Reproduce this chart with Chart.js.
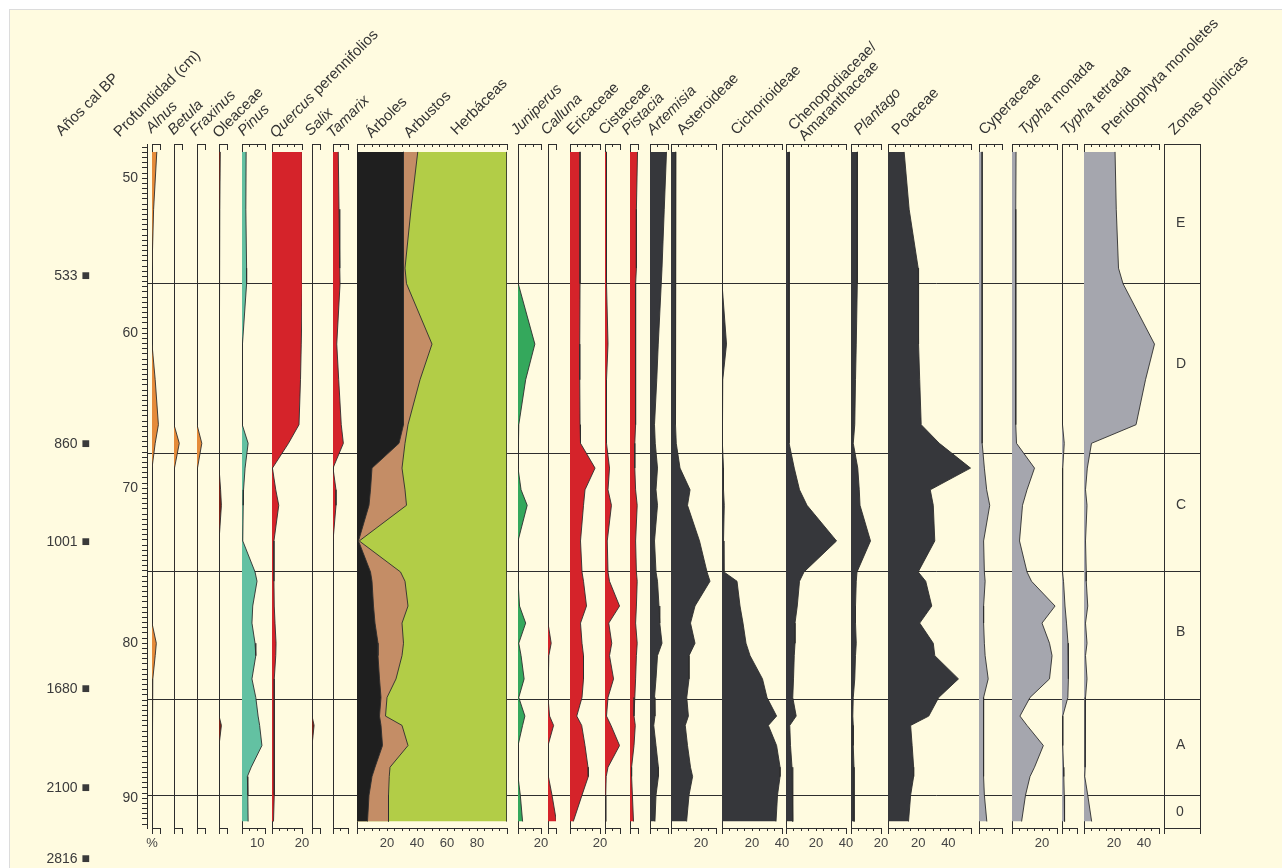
<!DOCTYPE html>
<html>
<head>
<meta charset="utf-8">
<script src="https://cdn.jsdelivr.net/npm/chart.js@4.4.1/dist/chart.umd.min.js"></script>
<style>
  body { margin: 0; background: #fff; }
  #stage { position: relative; width: 1282px; height: 868px; overflow: hidden; font-family: "Liberation Sans", Arial, sans-serif; }
  #frame { position: absolute; left: 9px; top: 9px; right: 0; bottom: 0; background: #fffbe0; border-top: 1px solid #dcdcdc; border-left: 1px solid #dcdcdc; }
  canvas { position: absolute; }
  .hd { position: absolute; white-space: nowrap; font-size: 15px; line-height: 15px; color: #333;
        transform-origin: 0 100%; transform: rotate(-45deg); }
</style>
</head>
<body>
<div id="stage"><div id="frame"></div></div>
<script>
// depth of each sample (cm)
const depths = [48.3, 52.0, 55.8, 56.8, 60.7, 63.0, 65.9, 67.1, 68.7, 70.1, 71.1, 73.4, 75.4, 76.0,
                77.6, 78.7, 80.0, 80.8, 82.3, 83.5, 84.7, 85.3, 86.6, 88.0, 88.6, 89.8, 91.5];

// percentages, one value per depth
const alnus = [3, 1, 0, 0, 0, 2, 4, 2, 0, 0, 0, 0, 0, 0, 0, 0, 2.7, 2, 0.5, 0, 0, 0, 0, 0, 0, 0, 0];
const betula = [0, 0, 0, 0, 0, 0, 0, 3.3, 0.3, 0, 0, 0, 0, 0, 0, 0, 0, 0, 0, 0, 0, 0, 0, 0, 0, 0, 0];
const fraxinus = [0, 0, 0, 0, 0, 0, 0, 3, 0.3, 0, 0, 0, 0, 0, 0, 0, 0, 0, 0, 0, 0, 0, 0, 0, 0, 0, 0];
const oleaceae = [0.8, 0.5, 0.2, 0, 0, 0, 0, 0, 0, 1, 1.5, 0, 0, 0, 0, 0, 0, 0, 0, 0, 0.3, 1.5, 0, 0, 0, 0, 0];
const pinus = [2.7, 2.5, 3, 3, 0.3, 0, 0.3, 4, 2, 1, 0.8, 0.5, 8.5, 9.8, 7, 6.5, 8.5, 9, 6.5, 9, 10.5, 11.5, 13, 6, 3.5, 3.8, 4];
const quercus = [20.5, 20.5, 20.3, 20, 19.5, 19, 18, 11, 0.3, 2.5, 4.5, 1.3, 1.3, 1.3, 1.5, 2, 2.7, 2.5, 1.5, 1.5, 1.5, 1.5, 1.5, 1.5, 1.5, 1.5, 1];
const salix = [0, 0, 0, 0, 0, 0, 0, 0, 0, 0, 0, 0, 0, 0, 0, 0, 0, 0, 0, 0, 0.2, 1.3, 0, 0, 0, 0, 0];
const tamarix = [3.5, 4, 4.5, 4.7, 2.5, 3.8, 5.5, 6.9, 0, 2, 2, 0, 0, 0, 0, 0, 0, 0, 0, 0, 0, 0, 0, 0, 0, 0, 0];
const arboles = [31, 31, 31, 31, 31, 31, 31, 28, 10, 9, 8, 1, 9, 10, 11, 12, 14, 14, 15, 16, 15, 16, 17, 12, 10, 8, 7];
const arbustos = [9.5, 5, 1, 2, 19, 11, 3, 4, 20, 23, 25, 0.5, 20, 22, 23, 18, 17, 16, 11, 4, 4, 14, 17, 10, 11.5, 13, 14];
const herbaceas = [59.5, 64, 68, 67, 50, 58, 66, 68, 70, 68, 67, 98.5, 71, 68, 66, 70, 69, 70, 74, 80, 81, 70, 66, 78, 78.5, 79, 79];
const juniperus = [0, 0, 0, 0.5, 11, 5, 0.5, 0, 0, 2, 6, 0, 0, 0, 1, 5, 0.5, 2, 4, 0.5, 4.5, 3, 0, 0, 0, 1.5, 3];
const calluna = [0, 0, 0, 0, 0, 0, 0, 0, 0, 0, 0, 0, 0, 0, 0, 0, 2, 0.5, 0, 0, 1, 3.5, 0, 0, 0.5, 2.5, 5.3];
const ericaceae = [6.7, 6.7, 6.7, 6.7, 6.5, 6.5, 6.7, 7, 16.7, 10, 9, 7, 8, 9, 11, 7, 8, 9, 9, 8, 4.5, 7.8, 10, 12, 12.2, 8, 2.2];
const cistaceae = [1, 1, 1, 1, 2, 1, 1, 1, 3, 2, 4.3, 1.5, 2, 3, 9.7, 2.5, 4.5, 3, 5.7, 2, 1, 4, 9.7, 2, 0.8, 0.5, 0.5];
const pistacia = [4.7, 4, 4, 3.5, 3.5, 3.5, 3.5, 3, 3, 3.5, 4.5, 3.5, 4, 4.5, 4, 3.5, 4.5, 4, 3.5, 3, 2.5, 3.3, 2.5, 1, 1, 1.5, 2.2];
const artemisia = [11, 9.5, 8, 7.5, 5.5, 4.5, 3, 3.5, 5, 4, 5, 3, 4, 5, 6, 6.5, 8, 5, 4, 3, 3.3, 2.5, 4, 5.6, 5.6, 4, 3.3];
const asteroideae = [3.3, 3, 3, 3, 3, 3, 3, 3.5, 6, 12.7, 11, 19, 24, 26, 16, 13, 16, 12, 12, 10.5, 11.6, 9.5, 11, 13, 14.4, 12, 10.4];
const cichorioideae = [0, 0, 0, 0, 3, 0.5, 0, 0.5, 1, 1, 1.5, 1, 1.3, 10, 12, 14, 16, 18.7, 27, 30, 36.4, 30.9, 36.4, 38.7, 38.7, 37, 36];
const chenoAmaranth = [2.3, 2, 2, 2, 2, 2, 2, 2.5, 5.5, 9, 14, 33.7, 12, 9, 7.5, 6, 6, 5.5, 5, 4.5, 6.8, 2.5, 3, 4, 4.5, 4.5, 4.5];
const plantago = [4.3, 4.3, 4.3, 4, 3.5, 3, 2.5, 1.5, 4.5, 5.5, 6, 13, 4, 3.5, 3, 3, 3.5, 3, 2.5, 1.5, 1.2, 1.5, 1.5, 2, 2, 2, 2.3];
const poaceae = [10.7, 14, 20, 20, 20.5, 21, 22, 34, 54.7, 28, 30, 31, 20, 25, 29, 21, 30, 31, 46.7, 33.6, 27, 15, 16, 17, 17, 15, 13.6];
const cyperaceae = [2, 2, 2, 2, 2, 2, 2, 2.5, 3.5, 5, 7, 3, 3.5, 4, 3, 3, 3.5, 4, 6, 3, 2.9, 3, 3, 3, 3, 3.5, 5.1];
const typhaMonada = [2.7, 2.5, 2.5, 2.5, 2.5, 2.5, 2.5, 3, 15, 10, 7, 5, 10, 13, 28.7, 20, 25, 26.7, 25, 12, 5.3, 10, 20.9, 15, 12, 9, 6.4];
const typhaTetrada = [0.3, 0.3, 0.3, 0.3, 0.3, 0.3, 0.5, 1.5, 0.5, 0.3, 0.3, 0.3, 0.5, 1, 2, 3, 4, 4, 4.5, 3.9, 0.5, 0.5, 0.5, 1, 1.2, 1.5, 1.7];
const pteridophyta = [20.7, 21.5, 23, 26, 47, 41, 34.7, 5, 2.2, 1, 2, 1, 1.5, 1.5, 2.5, 1, 2, 1, 2, 1, 1, 0.7, 0.7, 0.7, 0.5, 2.5, 5.1];

// depth axis, calibrated ages and pollen zones
const depthLabels = [50, 60, 70, 80, 90];
const ages = ["533", "860", "1001", "1680", "2100", "2816"];
const ageDepths = [56.3, 67.15, 73.5, 82.95, 89.35, 93.9];
const zoneBounds = [56.8, 67.75, 75.4, 83.6, 89.85];
const zoneLetters = ["E", "D", "C", "B", "A", "0"];
const zoneLetterDepths = [52.9, 62.0, 71.1, 79.3, 86.6, 90.9];

const DEPTH_MIN = 47.79, DEPTH_MAX = 91.92;
const PX_PER_PCT = 1.5;
const INK = "#2e2e2e";
const ORANGE = "#e58b3a", DKRED = "#7a2218", TEAL = "#63c1a2", RED = "#d5232a";
const BLACK = "#1f1f1f", BROWN = "#c48d66", LIME = "#b2cd47", GREEN = "#34a85c";
const DARK = "#36373b", GREY = "#a5a6ae";

Chart.defaults.font.family = "'Liberation Sans', Arial, sans-serif";
Chart.defaults.color = INK;
Chart.defaults.animation = false;
Chart.defaults.responsive = false;
Chart.defaults.events = [];

const stage = document.getElementById("stage");
function addCanvas(left, top, w, h) {
  const c = document.createElement("canvas");
  c.width = w; c.height = h;
  c.style.cssText = `left:${left}px;top:${top}px;width:${w}px;height:${h}px`;
  stage.appendChild(c);
  return c;
}
const noPad = (s) => { s.paddingTop = 0; s.paddingBottom = 0; s.paddingLeft = 0; s.paddingRight = 0; };

// longer ticks at both ends of each column's scale bars
const bracketEnds = {
  id: "bracketEnds",
  afterDraw(chart) {
    const { ctx, chartArea: a } = chart;
    const x = chart.scales.x;
    ctx.save();
    ctx.strokeStyle = INK;
    ctx.lineWidth = 1;
    ctx.beginPath();
    [x.min, x.max].forEach((v) => {
      const px = Math.round(x.getPixelForValue(v)) + 0.5;
      ctx.moveTo(px, a.top);
      ctx.lineTo(px, a.top + 6);
      ctx.moveTo(px, a.bottom);
      ctx.lineTo(px, a.bottom + 6);
    });
    ctx.stroke();
    ctx.restore();
  },
};

// ---- background: depth axis, ages, zone lines ----
new Chart(addCanvas(0, 0, 1282, 868), {
  type: "line",
  data: { datasets: [] },
  options: {
    layout: { padding: { left: 0, top: 144, right: 82, bottom: 40 } },
    plugins: { legend: { display: false }, tooltip: { enabled: false } },
    scales: {
      x: { type: "linear", display: false, min: 0, max: 1 },
      zones: {
        axis: "y", type: "linear", position: "left", reverse: true, weight: 0,
        min: DEPTH_MIN, max: DEPTH_MAX,
        grid: { color: INK, lineWidth: 1, drawTicks: false },
        border: { display: false },
        ticks: { display: false },
        afterBuildTicks: (s) => { s.ticks = zoneBounds.map((v) => ({ value: v })); },
        afterFit: (s) => { s.width = 0; noPad(s); },
      },
      y: {
        type: "linear", position: "left", reverse: true, weight: 1,
        min: DEPTH_MIN, max: DEPTH_MAX,
        grid: { drawOnChartArea: false, color: INK, tickLength: 5 },
        border: { color: INK },
        ticks: {
          autoSkip: false, padding: 4, color: "#3a3a3a", font: { size: 14 },
          callback: (v) => {
            const r = Math.round(v);
            return Math.abs(v - r) < 1e-6 && depthLabels.includes(r) ? String(r) : "";
          },
        },
        afterBuildTicks: (s) => {
          const t = [];
          for (let k = 0; k <= 131; k++) t.push({ value: 48 + k / 3 });
          s.ticks = t;
        },
        afterFit: (s) => { s.width = 47; noPad(s); },
      },
      age: {
        axis: "y", type: "linear", position: "left", reverse: true, weight: 2,
        min: DEPTH_MIN, max: DEPTH_MAX,
        grid: { display: false, drawTicks: false },
        border: { display: false },
        ticks: {
          autoSkip: false, padding: 10, color: "#3a3a3a", font: { size: 14 },
          callback: (v, i) => ages[i] + " \u25A0",
        },
        afterBuildTicks: (s) => { s.ticks = ageDepths.map((v) => ({ value: v })); },
        afterFit: (s) => { s.width = 100; noPad(s); },
      },
    },
  },
});

// ---- one small chart per pollen column ----
const panels = [
  { base: 152, max: 5, series: [[alnus, ORANGE]], labels: [[0, "%"]] },
  { base: 174, max: 5, series: [[betula, ORANGE]] },
  { base: 197, max: 5, series: [[fraxinus, ORANGE]] },
  { base: 219, max: 5, series: [[oleaceae, DKRED]] },
  { base: 242, max: 15, series: [[pinus, TEAL]], labels: [[10, "10"]] },
  { base: 272, max: 20, series: [[quercus, RED]], labels: [[20, "20"]] },
  { base: 312, max: 5, series: [[salix, DKRED]] },
  { base: 333, max: 10, series: [[tamarix, RED]] },
  { base: 357, max: 100, stacked: true,
    series: [[arboles, BLACK], [arbustos, BROWN], [herbaceas, LIME]],
    labels: [[20, "20"], [40, "40"], [60, "60"], [80, "80"]] },
  { base: 518, max: 15, series: [[juniperus, GREEN]], labels: [[15, "20"]] },
  { base: 548, max: 5, series: [[calluna, RED]] },
  { base: 570, max: 20, series: [[ericaceae, RED]], labels: [[20, "20"]] },
  { base: 605, max: 10, series: [[cistaceae, RED]] },
  { base: 630, max: 5, series: [[pistacia, RED]] },
  { base: 650, max: 12, series: [[artemisia, DARK]] },
  { base: 671, max: 30, series: [[asteroideae, DARK]], labels: [[20, "20"]] },
  { base: 722, max: 40, series: [[cichorioideae, DARK]], labels: [[20, "20"], [40, "40"]] },
  { base: 786, max: 40, series: [[chenoAmaranth, DARK]], labels: [[20, "20"], [40, "40"]] },
  { base: 851, max: 20, series: [[plantago, DARK]], labels: [[20, "20"]] },
  { base: 888, max: 55, series: [[poaceae, DARK]], labels: [[20, "20"], [40, "40"]] },
  { base: 979, max: 15, series: [[cyperaceae, GREY]] },
  { base: 1012, max: 30, series: [[typhaMonada, GREY]], labels: [[20, "20"]] },
  { base: 1062, max: 10, series: [[typhaTetrada, GREY]] },
  { base: 1084, max: 50, series: [[pteridophyta, GREY]], labels: [[20, "20"], [40, "40"]] },
  { base: 1164, max: 1, step: 1, width: 36, box: true, series: [] },
];

function drawPanel(p) {
  const pad = 14;
  const w = Math.round(p.width || p.max * PX_PER_PCT);
  const cv = addCanvas(p.base - pad, 130, w + 2 * pad, 738);
  const labelAt = (v) => {
    const hit = (p.labels || []).find((l) => Math.abs(l[0] - v) < 1e-6);
    return hit ? hit[1] : "";
  };
  const edge = (c) => c.tick && (c.tick.value === 0 || (p.box && c.tick.value === p.max));
  const yAxis = p.box
    ? {
        display: true, position: "left",
        grid: { display: false, drawTicks: false }, border: { display: false },
        ticks: { mirror: true, padding: 12, autoSkip: false, color: "#3a3a3a", font: { size: 14 },
                 callback: (v, i) => zoneLetters[i] },
        afterBuildTicks: (s) => { s.ticks = zoneLetterDepths.map((v) => ({ value: v })); },
        afterFit: (s) => { s.width = 0; noPad(s); },
      }
    : { display: false };

  new Chart(cv, {
    type: "line",
    data: {
      datasets: p.series.map(([vals, color]) => ({
        data: depths.map((d, i) => ({ x: vals[i], y: d })),
        backgroundColor: color,
        borderColor: INK,
        borderWidth: 0.9,
        fill: "origin",
        pointRadius: 0,
        tension: 0,
      })),
    },
    options: {
      indexAxis: "y",
      layout: { padding: { left: pad, right: pad, top: 8, bottom: 0 } },
      plugins: { legend: { display: false }, tooltip: { enabled: false } },
      scales: {
        y: Object.assign({ type: "linear", reverse: true, min: DEPTH_MIN, max: DEPTH_MAX }, yAxis),
        x: {
          type: "linear", position: "bottom", min: 0, max: p.max, stacked: !!p.stacked, z: 1,
          grid: { color: (c) => (edge(c) ? INK : "rgba(0,0,0,0)"), tickColor: INK, tickLength: 3, lineWidth: 1 },
          border: { color: INK },
          ticks: { stepSize: p.step || 5, autoSkip: false, maxRotation: 0, padding: 5,
                   color: "#444", font: { size: 13 }, callback: labelAt },
          afterFit: (s) => { s.height = 40; noPad(s); },
        },
        xTop: {
          axis: "x", type: "linear", position: "top", min: 0, max: p.max,
          grid: { drawOnChartArea: false, color: INK, tickLength: -3 },
          border: { color: INK },
          ticks: { stepSize: p.step || 5, display: false },
          afterFit: (s) => { s.height = 6; noPad(s); },
        },
      },
    },
    plugins: [bracketEnds],
  });
}
panels.forEach(drawPanel);

// ---- rotated column headings ----
const headings = [
  ["Años cal BP", 63, 138], ["Profundidad (cm)", 121, 139],
  ["<i>Alnus</i>", 153, 135], ["<i>Betula</i>", 175, 137], ["<i>Fraxinus</i>", 197, 138],
  ["Oleaceae", 220, 140], ["<i>Pinus</i>", 245, 138], ["<i>Quercus</i> perennifolios", 277, 140],
  ["<i>Salix</i>", 312, 138], ["<i>Tamarix</i>", 334, 140], ["Árboles", 373, 140],
  ["Arbustos", 411, 140], ["Herbáceas", 458, 137], ["<i>Juniperus</i>", 518, 137],
  ["<i>Calluna</i>", 548, 137], ["Ericaceae", 574, 137], ["Cistaceae", 606, 137],
  ["<i>Pistacia</i>", 629, 137], ["<i>Artemisia</i>", 654, 137], ["Asteroideae", 684, 137],
  ["Cichorioideae", 738, 137], ["Chenopodiaceae/<br>Amaranthaceae", 806, 143],
  ["<i>Plantago</i>", 861, 137], ["Poaceae", 899, 137], ["Cyperaceae", 986, 137],
  ["<i>Typha</i> monada", 1026, 137], ["<i>Typha</i> tetrada", 1068, 137],
  ["Pteridophyta monoletes", 1109, 137], ["Zonas polínicas", 1176, 137],
];
headings.forEach(([html, x, y]) => {
  const d = document.createElement("div");
  d.className = "hd";
  d.innerHTML = html;
  stage.appendChild(d);
  d.style.left = x + "px";
  d.style.top = (y - d.offsetHeight) + "px";
});
</script>
</body>
</html>
